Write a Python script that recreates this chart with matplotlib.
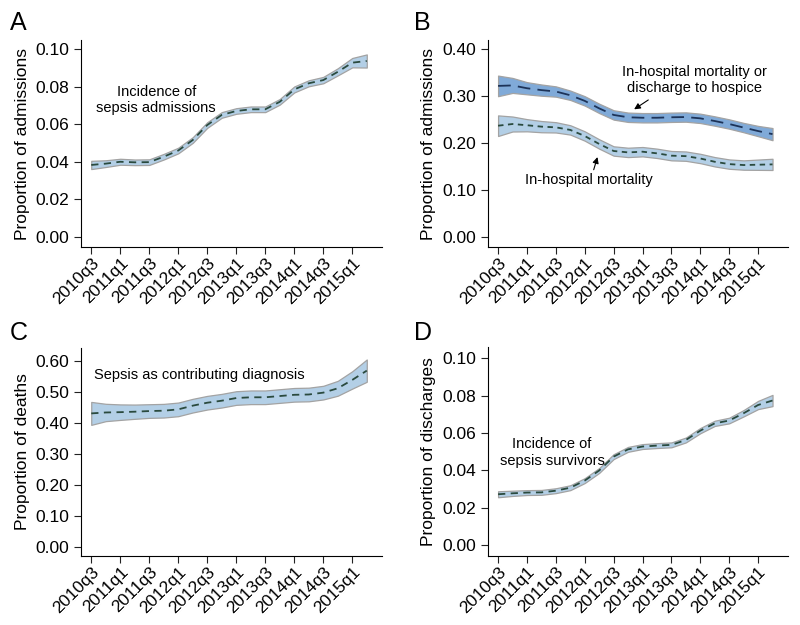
import numpy as np
import matplotlib.pyplot as plt

plt.rcParams['font.family'] = ['Liberation Sans', 'DejaVu Sans']

# quarter index 0 = 2010q3 ... 19 = 2015q2
quarters = np.arange(20)
tick_pos = np.arange(0, 20, 2)
tick_labels = ['2010q3', '2011q1', '2011q3', '2012q1', '2012q3',
               '2013q1', '2013q3', '2014q1', '2014q3', '2015q1']

# A: incidence of sepsis admissions
sepsis_adm = [0.0383, 0.039, 0.040, 0.0397, 0.0398, 0.0427, 0.046, 0.0516, 0.0596, 0.065,
              0.0671, 0.068, 0.068, 0.072, 0.0786, 0.0819, 0.0836, 0.088, 0.0929, 0.0938]
sepsis_adm_ci = [0.0022, 0.0018, 0.0016, 0.0015, 0.0015, 0.0015, 0.0015, 0.0015, 0.0015, 0.0015,
                 0.0015, 0.0015, 0.0015, 0.0015, 0.0016, 0.0016, 0.0017, 0.0019, 0.0025, 0.0035]

# B: mortality
hospice_mort = [0.322, 0.323, 0.317, 0.313, 0.310, 0.302, 0.290, 0.274, 0.260, 0.255,
                0.254, 0.254, 0.255, 0.2555, 0.2527, 0.247, 0.2406, 0.233, 0.2256, 0.219]
hospice_ci = [0.022, 0.016, 0.013, 0.012, 0.011, 0.010, 0.010, 0.010, 0.010, 0.010,
              0.010, 0.010, 0.010, 0.010, 0.010, 0.010, 0.010, 0.010, 0.011, 0.013]
hosp_mort = [0.237, 0.2406, 0.238, 0.235, 0.2335, 0.228, 0.215, 0.198, 0.183, 0.180,
             0.1815, 0.178, 0.173, 0.172, 0.167, 0.160, 0.155, 0.153, 0.1537, 0.1544]
hosp_ci = [0.022, 0.016, 0.013, 0.012, 0.011, 0.010, 0.010, 0.010, 0.010, 0.010,
           0.010, 0.010, 0.010, 0.010, 0.010, 0.010, 0.010, 0.010, 0.011, 0.012]

# C: sepsis as contributing diagnosis among deaths
sepsis_deaths = [0.430, 0.433, 0.434, 0.4355, 0.4376, 0.4387, 0.443, 0.455, 0.4645, 0.471,
                 0.4796, 0.482, 0.482, 0.486, 0.490, 0.491, 0.497, 0.511, 0.538, 0.568]
sepsis_deaths_ci = [0.037, 0.028, 0.025, 0.023, 0.022, 0.022, 0.022, 0.022, 0.022, 0.022,
                    0.022, 0.022, 0.022, 0.022, 0.022, 0.022, 0.022, 0.024, 0.028, 0.036]

# D: incidence of sepsis survivors
survivors = [0.0273, 0.0278, 0.0282, 0.0283, 0.0292, 0.0308, 0.0346, 0.040, 0.0474, 0.0513,
             0.0528, 0.0533, 0.0537, 0.0563, 0.0613, 0.0652, 0.0667, 0.0706, 0.075, 0.0774]
survivors_ci = [0.0016, 0.0014, 0.0013, 0.0013, 0.0013, 0.0013, 0.0013, 0.0013, 0.0013, 0.0013,
                0.0013, 0.0013, 0.0013, 0.0013, 0.0014, 0.0014, 0.0015, 0.0017, 0.0022, 0.003]

LIGHT = '#b3cfe6'
DARK = '#80aad8'
EDGE = '#a3a3a3'
GREEN = '#2a4a3e'
NAVY = '#1d3358'


def band(ax, y, ci, color, lcolor, dashes):
    y = np.array(y)
    ci = np.array(ci)
    ax.fill_between(quarters, y - ci, y + ci, facecolor=color, edgecolor=EDGE, linewidth=0.9)
    ax.plot(quarters, y, color=lcolor, linewidth=1.3, dashes=dashes)


def style(ax, ylim, yticks, ylabel):
    ax.set_xlim(-0.72, 20.05)
    ax.set_ylim(*ylim)
    ax.set_yticks(yticks)
    ax.set_yticklabels(['%.2f' % v for v in yticks])
    ax.set_xticks(tick_pos)
    ax.set_xticklabels(tick_labels, rotation=45, ha='right', rotation_mode='anchor')
    ax.set_ylabel(ylabel, fontsize=12.5)
    ax.spines['top'].set_visible(False)
    ax.spines['right'].set_visible(False)
    ax.tick_params(labelsize=12.5, length=5, width=0.8, color='#222222')
    ax.tick_params(axis='x', pad=1)


def arrow(ax, tip, tail):
    ax.annotate('', xy=tip, xytext=tail,
                arrowprops=dict(arrowstyle='-|>', color='black', lw=0.8, mutation_scale=9,
                                shrinkA=0, shrinkB=0))


fig = plt.figure(figsize=(8, 6.25), dpi=100)

axA = fig.add_axes([0.101, 0.6048, 0.3765, 0.3312])
band(axA, sepsis_adm, sepsis_adm_ci, LIGHT, GREEN, (4, 3))
style(axA, (-0.0055, 0.105), [0.00, 0.02, 0.04, 0.06, 0.08, 0.10], 'Proportion of admissions')
axA.text(4.48, 0.073, 'Incidence of\nsepsis admissions', ha='center', va='center', fontsize=10.5)

axB = fig.add_axes([0.6096, 0.6048, 0.375, 0.3312])
band(axB, hospice_mort, hospice_ci, DARK, NAVY, (7, 4))
band(axB, hosp_mort, hosp_ci, LIGHT, GREEN, (3, 2.5))
style(axB, (-0.022, 0.42), [0.0, 0.1, 0.2, 0.3, 0.4], 'Proportion of admissions')
axB.text(13.58, 0.334, 'In-hospital mortality or\ndischarge to hospice', ha='center', va='center',
         fontsize=10.5)
arrow(axB, (9.42, 0.272), (10.4, 0.292))
axB.text(6.27, 0.121, 'In-hospital mortality', ha='center', va='center', fontsize=10.5)
arrow(axB, (6.88, 0.170), (6.62, 0.143))

axC = fig.add_axes([0.101, 0.1104, 0.3765, 0.3328])
band(axC, sepsis_deaths, sepsis_deaths_ci, LIGHT, GREEN, (4, 3))
style(axC, (-0.03, 0.641), [0.0, 0.1, 0.2, 0.3, 0.4, 0.5, 0.6], 'Proportion of deaths')
axC.text(7.48, 0.554, 'Sepsis as contributing diagnosis', ha='center', va='center', fontsize=10.5)

axD = fig.add_axes([0.6096, 0.1104, 0.375, 0.3344])
band(axD, survivors, survivors_ci, LIGHT, GREEN, (4, 3))
style(axD, (-0.0057, 0.106), [0.00, 0.02, 0.04, 0.06, 0.08, 0.10], 'Proportion of discharges')
axD.text(3.74, 0.0496, 'Incidence of\nsepsis survivors', ha='center', va='center', fontsize=10.5)

for lab, x, y in [('A', 0.012, 0.963), ('B', 0.518, 0.963), ('C', 0.012, 0.467), ('D', 0.518, 0.467)]:
    fig.text(x, y, lab, fontsize=18, ha='left', va='center')

fig.savefig('out.png', dpi=100)
